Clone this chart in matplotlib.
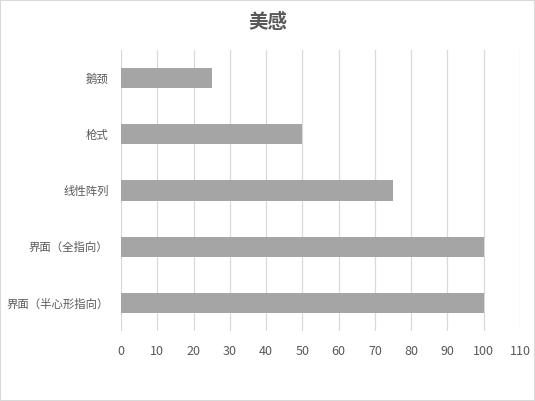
import matplotlib
matplotlib.use('Agg')
import matplotlib.pyplot as plt

plt.rcParams['font.family'] = ['Noto Sans CJK SC', 'DejaVu Sans']

# data
categories = ['鹅颈', '枪式', '线性阵列', '界面（全指向）', '界面（半心形指向）']
values = [25, 50, 75, 100, 100]
xticks = list(range(0, 111, 10))
title = '美感'

text_color = '#595959'
grid_color = '#D9D9D9'
bar_color = '#A5A5A5'

fig = plt.figure(figsize=(5.35, 4.01), dpi=100)
ax = fig.add_axes([121/535, 1 - 331/401, (520-121)/535, (331-50)/401])

ypos = list(range(len(categories)))
ax.barh(ypos, values, height=0.36, color=bar_color, zorder=3)
ax.set_ylim(len(categories) - 0.5, -0.5)
ax.set_yticks(ypos)
ax.set_yticklabels(categories)
ax.set_xlim(0, 110)
ax.set_xticks(xticks)

ax.grid(axis='x', color=grid_color, lw=0.9, zorder=0)
for s in ax.spines.values():
    s.set_visible(False)
ax.tick_params(axis='x', length=0, labelsize=9, colors=text_color, pad=10)
ax.tick_params(axis='y', length=0, labelsize=8.2, colors=text_color, pad=9)

fig.text(0.5, 1 - 22/401, title, ha='center', va='center', fontsize=14,
         fontweight='bold', color=text_color)

# outer border
fig.patches.append(plt.Rectangle((0, 0), 1, 1, transform=fig.transFigure,
                                 fill=False, edgecolor=grid_color, lw=1.5))

fig.savefig('out.png', dpi=100)
